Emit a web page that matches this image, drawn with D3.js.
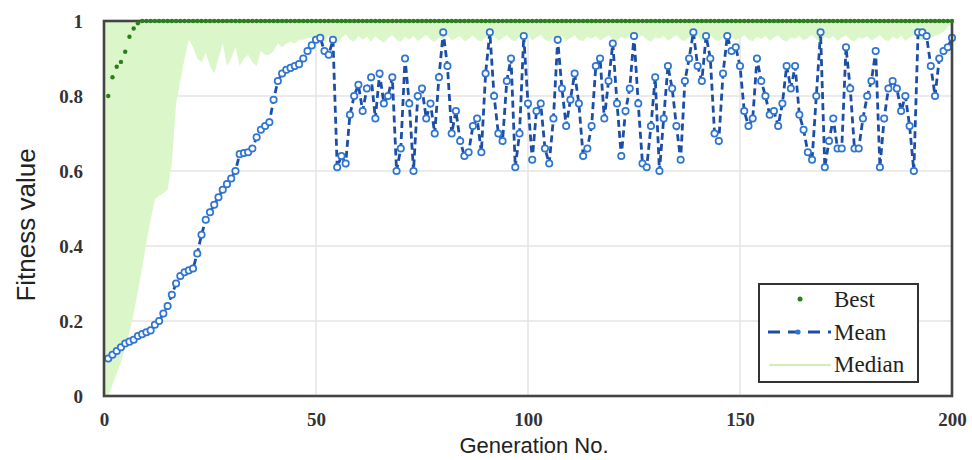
<!DOCTYPE html>
<html>
<head>
<meta charset="utf-8">
<script src="https://cdn.jsdelivr.net/npm/d3@7"></script>
<style>
  body { margin: 0; background: #fff; }
  svg { display: block; }
</style>
</head>
<body>
<script>
// generation axis ticks
const xTicks = [0, 50, 100, 150, 200];
const yTicks = [0, 0.2, 0.4, 0.6, 0.8, 1];
const yTickLabels = ["0", "0.2", "0.4", "0.6", "0.8", "1"];

// best fitness per generation (1..200)
const best = [
  0.80, 0.85, 0.878, 0.891, 0.918, 0.958, 0.98, 0.994, 1, 1,
  1, 1, 1, 1, 1, 1, 1, 1, 1, 1, 1, 1, 1, 1, 1, 1, 1, 1, 1, 1,
  1, 1, 1, 1, 1, 1, 1, 1, 1, 1, 1, 1, 1, 1, 1, 1, 1, 1, 1, 1,
  1, 1, 1, 1, 1, 1, 1, 1, 1, 1, 1, 1, 1, 1, 1, 1, 1, 1, 1, 1,
  1, 1, 1, 1, 1, 1, 1, 1, 1, 1, 1, 1, 1, 1, 1, 1, 1, 1, 1, 1,
  1, 1, 1, 1, 1, 1, 1, 1, 1, 1, 1, 1, 1, 1, 1, 1, 1, 1, 1, 1,
  1, 1, 1, 1, 1, 1, 1, 1, 1, 1, 1, 1, 1, 1, 1, 1, 1, 1, 1, 1,
  1, 1, 1, 1, 1, 1, 1, 1, 1, 1, 1, 1, 1, 1, 1, 1, 1, 1, 1, 1,
  1, 1, 1, 1, 1, 1, 1, 1, 1, 1, 1, 1, 1, 1, 1, 1, 1, 1, 1, 1,
  1, 1, 1, 1, 1, 1, 1, 1, 1, 1, 1, 1, 1, 1, 1, 1, 1, 1, 1, 1,
  1, 1, 1, 1, 1, 1, 1, 1, 1, 1
];

// mean fitness per generation (1..200)
const mean = [
  0.10, 0.11, 0.12, 0.13, 0.14, 0.145, 0.15, 0.16, 0.165, 0.17,
  0.175, 0.19, 0.20, 0.22, 0.24, 0.27, 0.30, 0.32, 0.33, 0.335,
  0.34, 0.38, 0.43, 0.47, 0.49, 0.51, 0.53, 0.55, 0.565, 0.58,
  0.60, 0.645, 0.648, 0.65, 0.66, 0.69, 0.71, 0.72, 0.73, 0.79,
  0.84, 0.86, 0.87, 0.875, 0.88, 0.885, 0.90, 0.92, 0.935, 0.95,
  0.955, 0.92, 0.91, 0.95, 0.61, 0.64, 0.62, 0.75, 0.80, 0.83,
  0.76, 0.82, 0.85, 0.74, 0.86, 0.78, 0.80, 0.85, 0.60, 0.66,
  0.90, 0.78, 0.60, 0.80, 0.82, 0.74, 0.78, 0.70, 0.85, 0.97,
  0.88, 0.70, 0.76, 0.68, 0.64, 0.65, 0.72, 0.74, 0.65, 0.86,
  0.97, 0.80, 0.70, 0.68, 0.84, 0.90, 0.61, 0.70, 0.96, 0.78,
  0.63, 0.76, 0.78, 0.66, 0.62, 0.74, 0.95, 0.82, 0.72, 0.79,
  0.86, 0.78, 0.64, 0.66, 0.72, 0.88, 0.90, 0.74, 0.84, 0.94,
  0.78, 0.64, 0.76, 0.82, 0.96, 0.78, 0.62, 0.61, 0.72, 0.85,
  0.60, 0.74, 0.88, 0.82, 0.72, 0.63, 0.84, 0.90, 0.97, 0.88,
  0.84, 0.96, 0.90, 0.70, 0.68, 0.86, 0.96, 0.92, 0.93, 0.88,
  0.76, 0.72, 0.74, 0.90, 0.84, 0.80, 0.75, 0.76, 0.72, 0.78,
  0.88, 0.82, 0.88, 0.75, 0.71, 0.65, 0.63, 0.80, 0.97, 0.61,
  0.68, 0.74, 0.66, 0.66, 0.93, 0.82, 0.66, 0.66, 0.74, 0.80,
  0.84, 0.92, 0.61, 0.74, 0.82, 0.84, 0.82, 0.76, 0.80, 0.72,
  0.60, 0.97, 0.97, 0.96, 0.88, 0.80, 0.90, 0.92, 0.93, 0.955
];

// median fitness per generation (0..200)
const median = [
  0.00,
  0.00, 0.03, 0.06, 0.09, 0.13, 0.17, 0.22, 0.28, 0.34, 0.41,
  0.47, 0.525, 0.535, 0.54, 0.55, 0.62, 0.78, 0.84, 0.90, 0.95,
  0.93, 0.90, 0.89, 0.915, 0.88, 0.86, 0.90, 0.94, 0.88, 0.90,
  0.93, 0.88, 0.90, 0.91, 0.89, 0.88, 0.92, 0.91, 0.91, 0.92,
  0.94, 0.93, 0.94, 0.945, 0.94, 0.95, 0.95, 0.955, 0.955, 0.96,
  0.955, 0.945, 0.96, 0.95, 0.94, 0.955, 0.965, 0.95, 0.945, 0.96,
  0.95, 0.958, 0.945, 0.96, 0.95, 0.942, 0.955, 0.962, 0.95, 0.945,
  0.958, 0.95, 0.96, 0.946, 0.955, 0.963, 0.95, 0.944, 0.957, 0.95,
  0.962, 0.948, 0.955, 0.96, 0.946, 0.953, 0.962, 0.95, 0.945, 0.958,
  0.952, 0.96, 0.947, 0.955, 0.963, 0.95, 0.946, 0.958, 0.951, 0.96,
  0.948, 0.956, 0.963, 0.95, 0.945, 0.957, 0.952, 0.961, 0.947, 0.955,
  0.962, 0.95, 0.946, 0.958, 0.953, 0.96, 0.948, 0.955, 0.963, 0.951,
  0.946, 0.958, 0.952, 0.961, 0.947, 0.956, 0.962, 0.95, 0.945, 0.957,
  0.953, 0.96, 0.948, 0.955, 0.963, 0.951, 0.946, 0.958, 0.952, 0.961,
  0.947, 0.956, 0.962, 0.95, 0.946, 0.957, 0.953, 0.96, 0.948, 0.955,
  0.963, 0.951, 0.946, 0.958, 0.952, 0.961, 0.947, 0.956, 0.962, 0.95,
  0.945, 0.957, 0.953, 0.96, 0.948, 0.955, 0.963, 0.951, 0.946, 0.958,
  0.952, 0.961, 0.947, 0.956, 0.962, 0.95, 0.946, 0.957, 0.953, 0.96,
  0.948, 0.955, 0.963, 0.951, 0.946, 0.958, 0.952, 0.961, 0.947, 0.956,
  0.962, 0.95, 0.948, 0.957, 0.955, 0.96, 0.965, 0.97, 0.985, 0.99
];

const width = 972;
const height = 460;

const x = d3.scaleLinear().domain([0, 200]).range([104, 952]);
const y = d3.scaleLinear().domain([0, 1]).range([396, 21]);

const svg = d3.select("body").append("svg")
  .attr("width", width)
  .attr("height", height);

//gridlines
svg.append("g")
  .selectAll("line")
  .data([50, 100, 150])
  .join("line")
  .attr("x1", d => x(d)).attr("x2", d => x(d))
  .attr("y1", y(0)).attr("y2", y(1))
  .attr("stroke", "#e4e4e4").attr("stroke-width", 1.5);

svg.append("g")
  .selectAll("line")
  .data([0.2, 0.4, 0.6, 0.8])
  .join("line")
  .attr("x1", x(0)).attr("x2", x(200))
  .attr("y1", d => y(d)).attr("y2", d => y(d))
  .attr("stroke", "#e4e4e4").attr("stroke-width", 1.5);

//median band (filled from the median up to the top)
const medianArea = d3.area()
  .x((d, i) => x(i))
  .y0(d => y(d))
  .y1(y(1));

svg.append("path")
  .datum(median)
  .attr("d", medianArea)
  .attr("fill", "#dbf6c9");

//mean: dashed line with open circle markers
const meanLine = d3.line()
  .x((d, i) => x(i + 1))
  .y(d => y(d));

svg.append("path")
  .datum(mean)
  .attr("d", meanLine)
  .attr("fill", "none")
  .attr("stroke", "#1c4ea6")
  .attr("stroke-width", 2.8)
  .attr("stroke-dasharray", "7,4");

svg.append("g")
  .selectAll("circle")
  .data(mean)
  .join("circle")
  .attr("cx", (d, i) => x(i + 1))
  .attr("cy", d => y(d))
  .attr("r", 3.2)
  .attr("fill", "#fff")
  .attr("stroke", "#2f76d2")
  .attr("stroke-width", 1.7);

//frame
svg.append("rect")
  .attr("x", x(0)).attr("y", y(1))
  .attr("width", x(200) - x(0))
  .attr("height", y(0) - y(1))
  .attr("fill", "none")
  .attr("stroke", "#444")
  .attr("stroke-width", 2.6);

//best: green dots
svg.append("g")
  .selectAll("circle")
  .data(best)
  .join("circle")
  .attr("cx", (d, i) => x(i + 1))
  .attr("cy", d => y(d))
  .attr("r", 2.2)
  .attr("fill", "#2a8018");

//axes
const xAxis = svg.append("g")
  .attr("transform", `translate(0,${y(0)})`)
  .call(d3.axisBottom(x).tickValues(xTicks).tickSize(0).tickPadding(17).tickFormat(d3.format("d")));

const yAxis = svg.append("g")
  .attr("transform", `translate(${x(0)},0)`)
  .call(d3.axisLeft(y).tickValues(yTicks).tickSize(0).tickPadding(21).tickFormat((d, i) => yTickLabels[i]));

[xAxis, yAxis].forEach(a => {
  a.select(".domain").remove();
  a.selectAll("text")
    .attr("fill", "#333")
    .style("font-family", "'Liberation Serif', serif")
    .style("font-weight", "bold")
    .style("font-size", "19px");
});

//axis titles
svg.append("text")
  .attr("x", 534)
  .attr("y", 453)
  .attr("text-anchor", "middle")
  .attr("fill", "#222")
  .style("font-family", "'Liberation Sans', Arial, sans-serif")
  .style("font-size", "22px")
  .text("Generation No.");

svg.append("text")
  .attr("transform", "translate(35,225) rotate(-90)")
  .attr("text-anchor", "middle")
  .attr("fill", "#222")
  .style("font-family", "'Liberation Sans', Arial, sans-serif")
  .style("font-size", "26px")
  .text("Fitness value");

//legend
const legend = svg.append("g");
legend.append("rect")
  .attr("x", 759).attr("y", 284)
  .attr("width", 159).attr("height", 98)
  .attr("fill", "#fff")
  .attr("stroke", "#333")
  .attr("stroke-width", 2);

legend.append("circle")
  .attr("cx", 800).attr("cy", 299).attr("r", 2.5)
  .attr("fill", "#2a8018");

legend.append("line")
  .attr("x1", 768).attr("x2", 831)
  .attr("y1", 332).attr("y2", 332)
  .attr("stroke", "#1c4ea6")
  .attr("stroke-width", 2.8)
  .attr("stroke-dasharray", "12,8");

legend.append("circle")
  .attr("cx", 798).attr("cy", 332).attr("r", 2.6)
  .attr("fill", "#2f76d2");

legend.append("line")
  .attr("x1", 769).attr("x2", 831)
  .attr("y1", 365).attr("y2", 365)
  .attr("stroke", "#cdf0b4")
  .attr("stroke-width", 2);

const legendNames = ["Best", "Mean", "Median"];
legend.selectAll("text")
  .data(legendNames)
  .join("text")
  .attr("x", 834)
  .attr("y", (d, i) => 307 + i * 32.5)
  .attr("fill", "#222")
  .style("font-family", "'Liberation Serif', serif")
  .style("font-size", "23px")
  .text(d => d);
</script>
</body>
</html>
